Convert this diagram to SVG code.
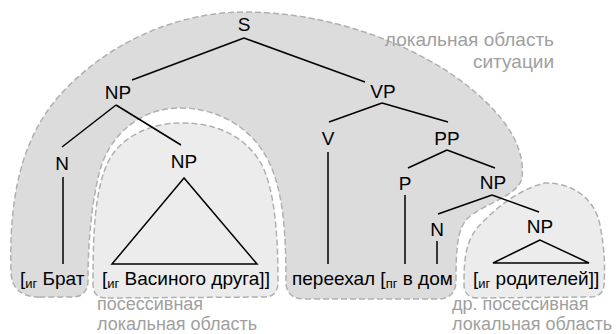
<svg xmlns="http://www.w3.org/2000/svg" width="616" height="334" viewBox="0 0 616 334">
<style>
.region{stroke:#b0b0b0;stroke-width:1.5;stroke-dasharray:6 3;}
.dark{fill:#dcdcdc;}
.light{fill:#ececec;}
.lbl{font-family:"Liberation Sans",Arial,sans-serif;font-size:19px;fill:#000;text-anchor:middle;}
.word{font-family:"Liberation Sans",Arial,sans-serif;font-size:19px;fill:#000;}
.sub{font-size:13px;}
.note{font-family:"Liberation Sans",Arial,sans-serif;font-size:19px;fill:#a0a0a0;}
.note2{font-family:"Liberation Sans",Arial,sans-serif;font-size:18px;fill:#a0a0a0;}
.edge{stroke:#000;stroke-width:1.5;fill:none;}
</style>
<rect width="616" height="334" fill="#fff"/>
<g id="regions">
<path id="situation-domain" class="region dark" d="M 40,297 Q 12,297 11,272 C 9,200 20,140 60,95 C 110,40 180,12 245,12 C 330,12 420,45 475,92 C 510,122 525,150 522,178 C 518,196 485,203 468,218 C 458,228 456,245 456,280 Q 456,299 438,299 L 305,299 Q 286,299 286,282 C 286,230 283,190 268,160 C 250,125 215,108 180,108 C 140,108 110,135 100,170 C 92,200 88,240 88,280 Q 88,297 72,297 Z"/>
<path id="possessive-domain" class="region light" d="M 106,298 Q 93,298 93,284 C 93,230 95,190 108,162 C 120,138 148,123 182,123 C 215,123 245,135 262,165 C 274,190 278,230 278,282 Q 278,297 264,297 Z"/>
<path id="other-possessive-domain" class="region light" d="M 478,298 Q 464,298 464,284 C 464,262 465,242 478,227 C 490,214 515,190 545,183 C 575,183 595,200 600,225 C 605,250 605,270 604,285 Q 603,297 590,297 Z"/>
</g>
<g id="connectors">
<line class="edge" x1="244" y1="38" x2="132" y2="80"/>
<line class="edge" x1="244" y1="38" x2="365" y2="82"/>
<line class="edge" x1="116" y1="105" x2="62" y2="147"/>
<line class="edge" x1="116" y1="105" x2="181" y2="145"/>
<line class="edge" x1="63" y1="177" x2="63" y2="264"/>
<path class="edge" d="M 184,178 L 112,264 L 257,264 Z"/>
<line class="edge" x1="382" y1="103" x2="329" y2="122"/>
<line class="edge" x1="382" y1="103" x2="448" y2="122"/>
<line class="edge" x1="328" y1="152" x2="328" y2="264"/>
<line class="edge" x1="447" y1="150" x2="408" y2="168"/>
<line class="edge" x1="447" y1="150" x2="495" y2="168"/>
<line class="edge" x1="405" y1="195" x2="405" y2="264"/>
<line class="edge" x1="492" y1="195" x2="438" y2="214"/>
<line class="edge" x1="492" y1="195" x2="539" y2="212"/>
<line class="edge" x1="437" y1="241" x2="437" y2="264"/>
<path class="edge" d="M 540,240 L 493,263 L 589,263 Z"/>
</g>
<g id="node-S"><text class="lbl" x="244" y="31">S</text></g>
<g id="node-NP1"><text class="lbl" x="118" y="99">NP</text></g>
<g id="node-VP"><text class="lbl" x="383" y="98">VP</text></g>
<g id="node-N1"><text class="lbl" x="62" y="170">N</text></g>
<g id="node-NP2"><text class="lbl" x="184" y="168">NP</text></g>
<g id="node-V"><text class="lbl" x="328" y="145">V</text></g>
<g id="node-PP"><text class="lbl" x="447" y="145">PP</text></g>
<g id="node-P"><text class="lbl" x="405" y="190">P</text></g>
<g id="node-NP3"><text class="lbl" x="493" y="189">NP</text></g>
<g id="node-N2"><text class="lbl" x="437" y="236">N</text></g>
<g id="node-NP4"><text class="lbl" x="540" y="233">NP</text></g>
<g id="words">
<text class="word" x="20" y="285">[<tspan class="sub" dy="3">иг</tspan><tspan dy="-3"> Брат</tspan></text>
<text class="word" x="102" y="285">[<tspan class="sub" dy="3">иг</tspan><tspan dy="-3"> Васиного друга]]</tspan></text>
<text class="word" x="292" y="285">переехал [<tspan class="sub" dy="3">пг</tspan><tspan dy="-3"> в дом</tspan></text>
<text class="word" x="473" y="285">[<tspan class="sub" dy="3">иг</tspan><tspan dy="-3"> родителей]]</tspan></text>
</g>
<g id="notes">
<text class="note" text-anchor="end"><tspan x="554" y="46">локальная область</tspan><tspan x="554" y="68">ситуации</tspan></text>
<text class="note2"><tspan x="97" y="310">посессивная</tspan><tspan x="97" y="329.5">локальная область</tspan></text>
<text class="note2"><tspan x="452" y="310">др. посессивная</tspan><tspan x="452" y="329.5">локальная область</tspan></text>
</g>
</svg>
